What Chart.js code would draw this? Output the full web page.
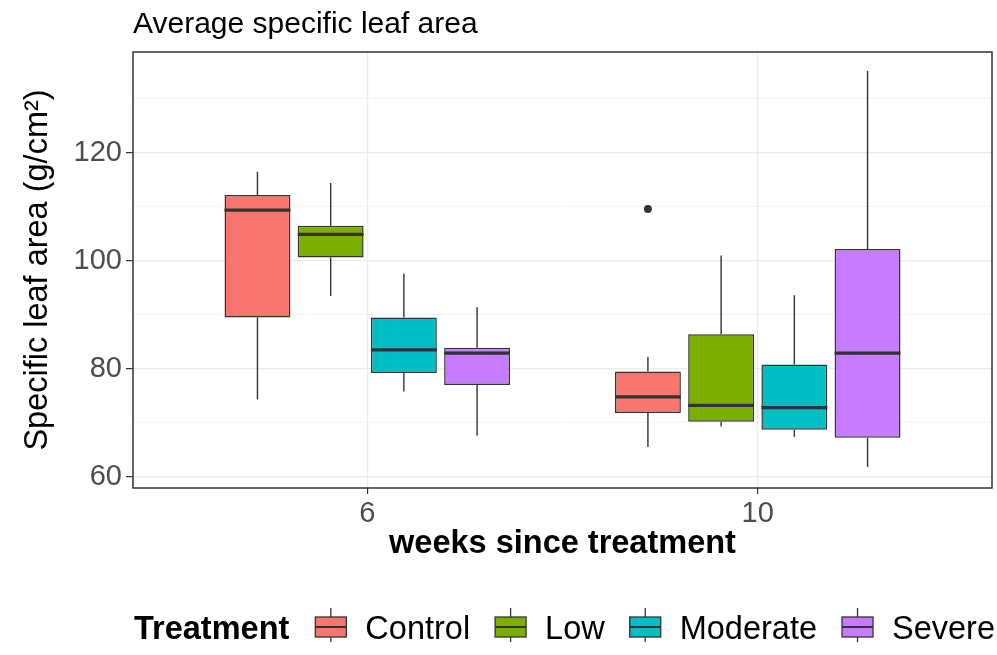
<!DOCTYPE html>
<html>
<head>
<meta charset="utf-8">
<script src="https://cdn.jsdelivr.net/npm/chart.js@4.4.1/dist/chart.umd.min.js"></script>
<style>
  body { margin: 0; background: #fff; }
  #wrap { width: 997px; height: 655px; }
</style>
</head>
<body>
<div id="wrap"><canvas id="slaChart"></canvas></div>
<script>
// Data
const weeks = ['6', '10'];
const weekPos = [1, 2];
const treatments = ['Control', 'Low', 'Moderate', 'Severe'];
const colors = ['#F8766D', '#7CAE00', '#00BFC4', '#C77CFF'];

// per treatment: [week 6, week 10]
const whiskerLow = [[74.3, 65.5], [93.5, 69.3], [75.8, 67.4], [67.6, 61.8]];
const q1 = [[89.5, 71.8], [100.6, 70.2], [79.2, 68.7], [77.0, 67.2]];
const median = [[109.4, 74.8], [104.9, 73.2], [83.5, 72.8], [82.9, 82.9]];
const q3 = [[112.2, 79.5], [106.5, 86.4], [89.5, 80.8], [83.9, 102.2]];
const whiskerHigh = [[116.5, 82.2], [114.4, 101.0], [97.6, 93.6], [91.4, 135.2]];
const outliers = [[[], [109.6]], [[], []], [[], []], [[], []]];

const yMajor = [60, 80, 100, 120];
const yMinor = [70, 90, 110, 130];

const FONT = "'Liberation Sans', Arial, sans-serif";
const INK = '#333333';

const datasets = treatments.map((name, d) => ({
  label: name,
  data: weekPos.map((x, i) => ({ x: x, y: [q1[d][i], q3[d][i]] })),
  backgroundColor: colors[d],
  borderColor: INK,
  borderWidth: 1.5,
  borderSkipped: false,
  categoryPercentage: 0.75,
  barPercentage: 0.9
}));

// whiskers, medians, outliers, panel border and legend
const boxParts = {
  id: 'boxParts',
  beforeDatasetsDraw(chart) {
    const ctx = chart.ctx, y = chart.scales.y;
    ctx.save();
    ctx.strokeStyle = INK;
    ctx.lineWidth = 1.4;
    chart.data.datasets.forEach((ds, d) => {
      chart.getDatasetMeta(d).data.forEach((bar, i) => {
        ctx.beginPath();
        ctx.moveTo(bar.x, y.getPixelForValue(whiskerHigh[d][i]));
        ctx.lineTo(bar.x, y.getPixelForValue(q3[d][i]));
        ctx.moveTo(bar.x, y.getPixelForValue(q1[d][i]));
        ctx.lineTo(bar.x, y.getPixelForValue(whiskerLow[d][i]));
        ctx.stroke();
      });
    });
    ctx.restore();
  },
  afterDatasetsDraw(chart) {
    const ctx = chart.ctx, y = chart.scales.y, a = chart.chartArea;
    ctx.save();
    chart.data.datasets.forEach((ds, d) => {
      chart.getDatasetMeta(d).data.forEach((bar, i) => {
        const py = y.getPixelForValue(median[d][i]);
        ctx.strokeStyle = INK;
        ctx.lineWidth = 3.2;
        ctx.beginPath();
        ctx.moveTo(bar.x - bar.width / 2, py);
        ctx.lineTo(bar.x + bar.width / 2, py);
        ctx.stroke();
        ctx.fillStyle = INK;
        outliers[d][i].forEach(v => {
          ctx.beginPath();
          ctx.arc(bar.x, y.getPixelForValue(v), 4, 0, Math.PI * 2);
          ctx.fill();
        });
      });
    });
    ctx.strokeStyle = INK;
    ctx.lineWidth = 1.5;
    ctx.strokeRect(a.left, a.top, a.right - a.left, a.bottom - a.top);
    ctx.restore();
  },
  afterDraw(chart) {
    const ctx = chart.ctx, a = chart.chartArea;
    const cy = 627;
    const size = 32.5;
    ctx.save();
    ctx.font = 'bold ' + size + 'px ' + FONT;
    const titleW = ctx.measureText('Treatment').width;
    ctx.font = size + 'px ' + FONT;
    const labelW = treatments.map(t => ctx.measureText(t).width);
    const glyphW = 31, glyphGap = 19, itemGap = 25, titleGap = 26;
    let total = titleW + titleGap;
    labelW.forEach((w, i) => { total += glyphW + glyphGap + w + (i < labelW.length - 1 ? itemGap : 0); });
    let x = (a.left + a.right) / 2 - total / 2 + 2;
    ctx.fillStyle = '#000';
    ctx.textBaseline = 'alphabetic';
    ctx.font = 'bold ' + size + 'px ' + FONT;
    ctx.fillText('Treatment', x, cy + 12);
    x += titleW + titleGap;
    ctx.font = size + 'px ' + FONT;
    chart.data.datasets.forEach((ds, d) => {
      const gx = x + glyphW / 2;
      ctx.strokeStyle = INK;
      ctx.lineWidth = 1.3;
      ctx.beginPath();
      ctx.moveTo(gx, cy - 19); ctx.lineTo(gx, cy + 15);
      ctx.stroke();
      ctx.fillStyle = ds.backgroundColor;
      ctx.fillRect(x, cy - 10, glyphW, 20);
      ctx.strokeRect(x, cy - 10, glyphW, 20);
      ctx.lineWidth = 2;
      ctx.beginPath();
      ctx.moveTo(x, cy); ctx.lineTo(x + glyphW, cy);
      ctx.stroke();
      x += glyphW + glyphGap;
      ctx.fillStyle = '#000';
      ctx.fillText(ds.label, x, cy + 12);
      x += labelW[d] + itemGap;
    });
    ctx.restore();
  }
};

new Chart(document.getElementById('slaChart'), {
  type: 'bar',
  data: { datasets: datasets },
  plugins: [boxParts],
  options: {
    responsive: true,
    maintainAspectRatio: false,
    animation: false,
    layout: { padding: { left: 0, right: 5, top: 0, bottom: 91 } },
    plugins: {
      legend: { display: false },
      tooltip: { enabled: false },
      title: {
        display: true,
        text: 'Average specific leaf area',
        align: 'start',
        fullSize: false,
        color: '#000',
        font: { family: FONT, size: 30, weight: 'normal' },
        padding: { top: 7, bottom: 9 }
      }
    },
    scales: {
      x: {
        type: 'linear',
        min: 0.4,
        max: 2.6,
        offset: false,
        afterBuildTicks: s => { s.ticks = weekPos.map(v => ({ value: v })); },
        afterFit: s => { s.height = 76; },
        ticks: {
          color: '#4D4D4D',
          font: { family: FONT, size: 29 },
          padding: 3,
          callback: v => weeks[weekPos.indexOf(v)]
        },
        grid: { offset: false, color: '#EBEBEB', lineWidth: 1.2, tickColor: INK, tickLength: 6 },
        border: { display: false },
        title: {
          display: true,
          text: 'weeks since treatment',
          color: '#000',
          font: { family: FONT, size: 32.5, weight: 'bold' },
          padding: { top: 0, bottom: 0 }
        }
      },
      y: {
        type: 'linear',
        min: 57.9,
        max: 138.7,
        afterBuildTicks: s => {
          s.ticks = yMajor.concat(yMinor).sort((p, q) => p - q).map(v => ({ value: v }));
        },
        afterFit: s => { s.width = 133; },
        ticks: {
          color: '#4D4D4D',
          font: { family: FONT, size: 29 },
          padding: 4,
          callback: v => (yMajor.includes(v) ? v : '')
        },
        grid: {
          color: '#EBEBEB',
          lineWidth: c => (yMajor.includes(c.tick.value) ? 1.2 : 0.6),
          tickColor: c => (yMajor.includes(c.tick.value) ? INK : 'rgba(0,0,0,0)'),
          tickLength: 7
        },
        border: { display: false },
        title: {
          display: true,
          text: 'Specific leaf area (g/cm²)',
          color: '#000',
          font: { family: FONT, size: 32.5 },
          padding: { top: 19, bottom: 0 }
        }
      }
    }
  }
});
</script>
</body>
</html>
